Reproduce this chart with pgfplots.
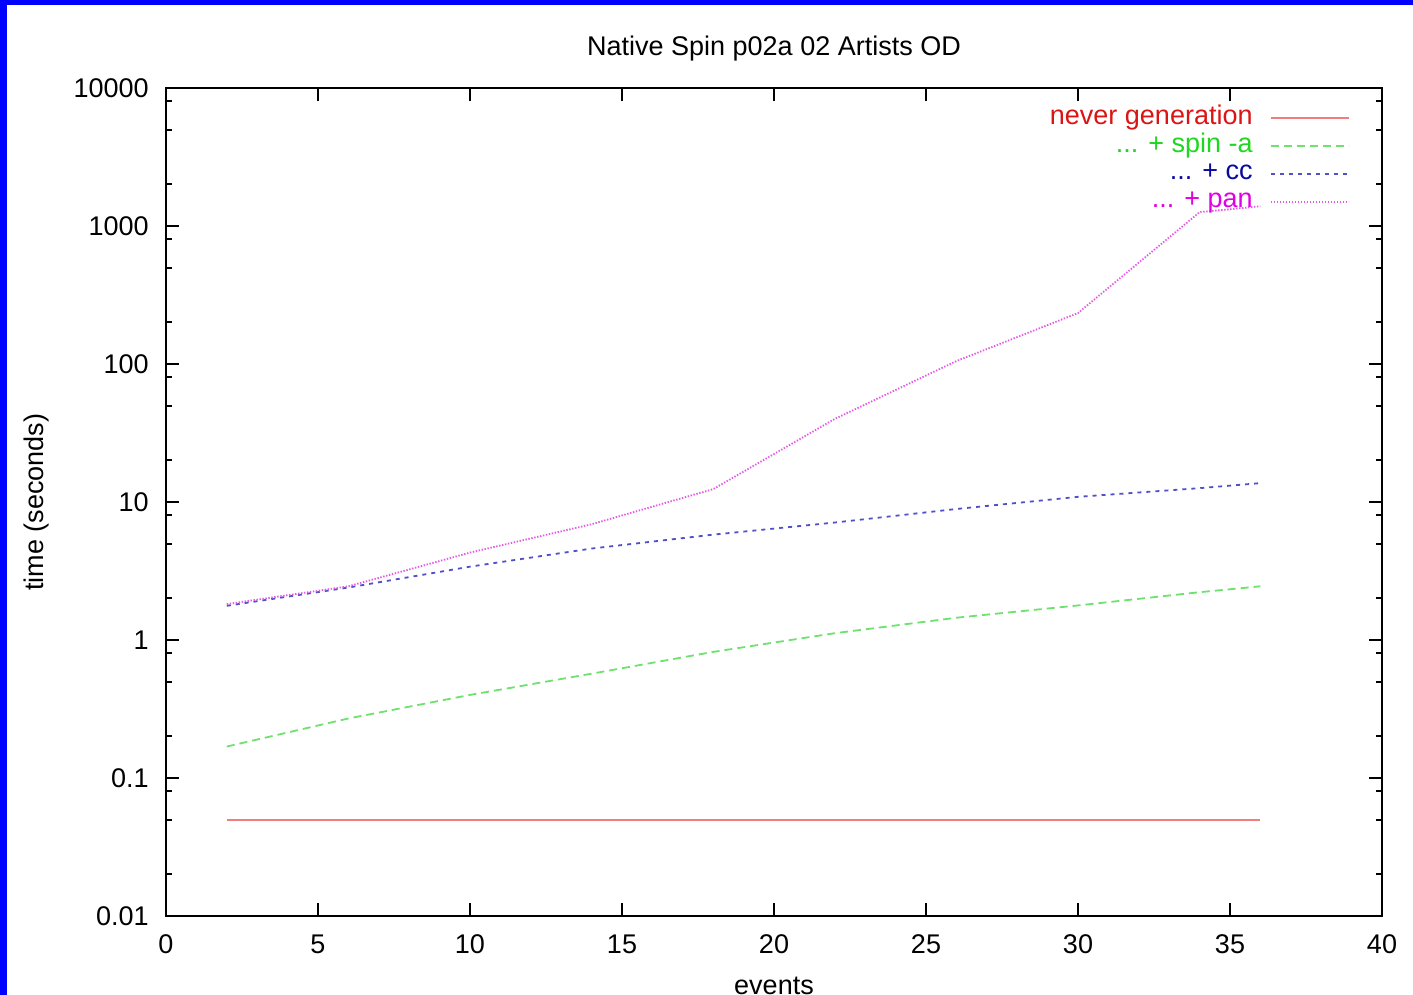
\documentclass[border=0pt]{standalone}
\usepackage{pgfplots}
\pgfplotsset{compat=1.18}
\usepackage{fontspec}
\setmainfont{Liberation Sans}
\definecolor{linered}{RGB}{242,125,125}
\definecolor{textred}{RGB}{220,20,20}
\definecolor{linegreen}{RGB}{110,225,110}
\definecolor{textgreen}{RGB}{30,215,30}
\definecolor{lineblue}{RGB}{80,80,200}
\definecolor{textblue}{RGB}{10,10,160}
\definecolor{linemag}{RGB}{228,90,228}
\definecolor{textmag}{RGB}{225,0,225}
\begin{document}
\fontsize{13.5bp}{16bp}\selectfont
\begin{tikzpicture}
\path[use as bounding box] (0,0) rectangle (706.5bp,497.5bp);
\fill[blue] (0,0) rectangle (706.5bp,497.5bp);
\fill[white] (3.65bp,0) rectangle (706.5bp,495bp);
\begin{axis}[
  at={(83bp,39.5bp)}, anchor=south west,
  scale only axis, width=608bp, height=414bp,
  xmin=0, xmax=40, ymin=0.01, ymax=10000, ymode=log,
  xtick={0,5,...,40},
  ytick={0.01,0.1,1,10,100,1000,10000},
  yticklabels={0.01,0.1,1,10,100,1000,10000},
  minor ytick={0.02,0.05,0.08,0.2,0.5,0.8,2,5,8,20,50,80,200,500,800,2000,5000,8000},
  tick align=inside,
  major tick length=6.5bp, minor tick length=3bp,
  every tick/.style={black, line width=1bp},
  axis line style={line width=1bp},
  /pgf/number format/assume math mode=true,
  tick label style={font=\fontsize{13.5bp}{16bp}\selectfont},
  xticklabel style={anchor=base, inner sep=0pt, yshift=-18.5bp},
  yticklabel style={anchor=east, inner sep=0pt, xshift=-8.5bp},
  title={Native Spin p02a 02 Artists OD},
  title style={at={(axis description cs:0.5,1)}, anchor=base, yshift=10.5bp, inner sep=0pt},
  xlabel={events},
  xlabel style={at={(axis description cs:0.5,0)}, anchor=base, yshift=-39bp, inner sep=0pt},
  ylabel={time (seconds)},
  ylabel style={at={(axis description cs:-0.1061,0.5)}, anchor=center, inner sep=0pt},
  legend plot pos=right,
  legend cell align=right,
  legend image code/.code={\draw[#1] (0bp,0bp) -- (39bp,0bp);},
  legend style={at={(rel axis cs:1,1)}, anchor=north east, xshift=-16bp, yshift=-8bp,
    draw=none, fill=none, inner sep=0pt, column sep=8.5bp, row sep=0pt,
    nodes={inner sep=0pt, text height=10bp, text depth=3.9bp},
    font=\fontsize{13.5bp}{16bp}\selectfont},
]
\addplot[color=linered, line width=1bp, solid] coordinates {
(2,0.05) (6,0.05) (10,0.05) (14,0.05) (18,0.05) (22,0.05) (26,0.05) (30,0.05) (34,0.05) (36,0.05)};
\addlegendentry{\textcolor{textred}{never generation}}
\addplot[color=linegreen, line width=0.9bp, dash pattern=on 4bp off 2.5bp] coordinates {
(2,0.169) (6,0.27) (10,0.40) (14,0.57) (18,0.82) (22,1.12) (26,1.45) (30,1.78) (34,2.22) (36,2.45)};
\addlegendentry{\textcolor{textgreen}{... + spin -a}}
\addplot[color=lineblue, line width=0.9bp, dash pattern=on 2bp off 2.5bp] coordinates {
(2,1.77) (6,2.4) (10,3.4) (14,4.6) (18,5.8) (22,7.1) (26,8.9) (30,10.9) (34,12.6) (36,13.7)};
\addlegendentry{\textcolor{textblue}{... + cc}}
\addplot[color=linemag, line width=0.9bp, dash pattern=on 0.7bp off 0.8bp] coordinates {
(2,1.82) (6,2.45) (10,4.3) (14,6.9) (18,12.4) (22,40) (26,105) (30,234) (34,1260) (36,1390)};
\addlegendentry{\textcolor{textmag}{... + pan}}
\end{axis}
\end{tikzpicture}
\end{document}
